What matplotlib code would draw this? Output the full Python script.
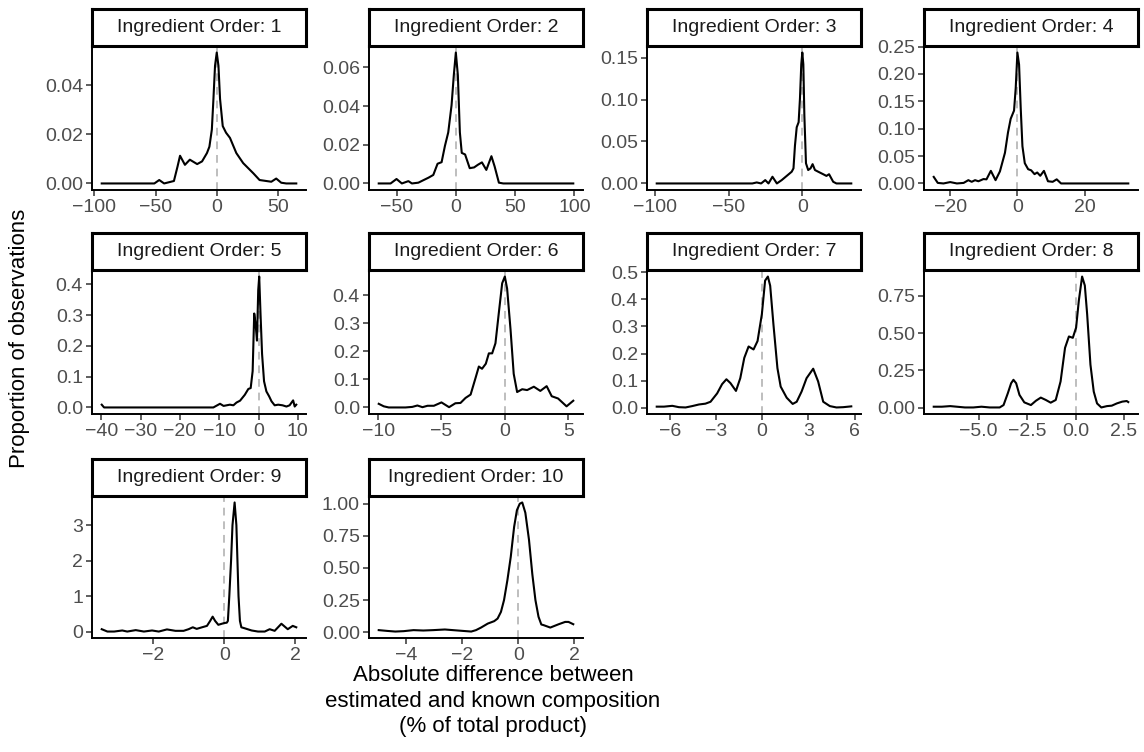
import matplotlib
matplotlib.use("Agg")
import matplotlib.pyplot as plt

plt.rcParams['font.family'] = ['Liberation Sans', 'DejaVu Sans']

# density curves, one pair per ingredient order
o1_x = [-94, -51, -47, -43, -35, -32, -30, -26, -22, -16, -12, -8, -6, -4, -2.7, -1.4, 0, 1.4, 2.7, 4.9, 7.6, 10.8, 16, 21.6, 30, 35, 40.5, 44.6, 48.6, 52.7, 56.8, 65]
o1_y = [0, 0, 0.0014, 0, 0.001, 0.007, 0.0113, 0.0076, 0.0097, 0.0079, 0.009, 0.0124, 0.015, 0.022, 0.0345, 0.048, 0.0534, 0.048, 0.0345, 0.0234, 0.0207, 0.0186, 0.0124, 0.0083, 0.0041, 0.0014, 0.001, 0.0007, 0.002, 0.0003, 0, 0]

o2_x = [-65, -55, -50, -45.5, -40, -37, -31.6, -27, -23, -19, -15.4, -12, -9.2, -6.4, -3.6, -1.7, 0, 1.7, 3.4, 5, 7.8, 11.7, 15.4, 18.7, 22, 25.7, 30, 32.7, 36.3, 40, 99]
o2_y = [0, 0, 0.0023, 0, 0.0012, 0, 0.0004, 0.0018, 0.003, 0.0044, 0.0102, 0.011, 0.0194, 0.0264, 0.0405, 0.056, 0.0677, 0.056, 0.0264, 0.0158, 0.015, 0.0079, 0.0083, 0.0097, 0.0109, 0.007, 0.0141, 0.0088, 0.0004, 0, 0]

o3_x = [-99, -34, -31, -28, -25.2, -23, -20.3, -17.3, -14, -10.6, -7.2, -6, -5, -3.8, -2.5, -1.6, -0.7, 0, 0.7, 1.4, 2.5, 4, 5.6, 7, 8.6, 10.8, 14.2, 16.4, 18.2, 21, 23.2, 33.3]
o3_y = [0, 0, 0.0012, 0, 0.004, 0, 0.008, 0, 0.004, 0.009, 0.014, 0.018, 0.045, 0.067, 0.073, 0.101, 0.142, 0.156, 0.142, 0.081, 0.024, 0.016, 0.018, 0.023, 0.016, 0.014, 0.011, 0.009, 0.011, 0.002, 0, 0]

o4_x = [-24.9, -23.7, -22, -20, -18, -16, -14.6, -13.6, -12.6, -11.6, -10.1, -9.2, -7.9, -6.5, -5.2, -3.7, -2.8, -2, -1, -0.5, 0, 0.5, 1, 1.5, 2.2, 3.2, 4.1, 5.1, 5.9, 6.8, 7.9, 9.1, 10.5, 11.7, 13, 19.4, 33]
o4_y = [0.012, 0.001, 0, 0.0025, 0, 0.001, 0.006, 0.003, 0.006, 0.004, 0.008, 0.0075, 0.023, 0.006, 0.022, 0.056, 0.093, 0.118, 0.133, 0.174, 0.239, 0.217, 0.136, 0.068, 0.037, 0.026, 0.024, 0.017, 0.02, 0.014, 0.023, 0.004, 0.003, 0.0075, 0, 0, 0]

o5_x = [-39.9, -39.3, -12.3, -11.5, -9.8, -8.9, -7.3, -6.4, -5.6, -4.7, -3.5, -2.6, -2.0, -1.5, -1.1, -0.76, -0.4, -0.08, 0.17, 0.5, 0.9, 1.4, 2.0, 2.7, 3.3, 4.1, 5.0, 6.1, 7.1, 7.9, 8.8, 9.2, 9.6]
o5_y = [0.009, 0, 0, 0, 0.012, 0.005, 0.009, 0.007, 0.016, 0.022, 0.041, 0.06, 0.063, 0.118, 0.305, 0.272, 0.217, 0.381, 0.425, 0.305, 0.173, 0.085, 0.052, 0.036, 0.02, 0.007, 0.009, 0.007, 0.003, 0.007, 0.023, 0.003, 0.009]

o6_x = [-9.95, -9.55, -9.16, -8.5, -7.84, -7.3, -6.9, -6.5, -6.1, -5.6, -5.0, -4.4, -3.9, -3.5, -3.1, -2.7, -2.3, -2.05, -1.8, -1.5, -1.26, -1.0, -0.74, -0.47, -0.21, 0, 0.18, 0.45, 0.7, 0.97, 1.37, 1.76, 2.29, 2.8, 3.3, 3.7, 4.2, 4.87, 5.4]
o6_y = [0.013, 0.004, 0, 0, 0, 0.002, 0.007, 0.001, 0.006, 0.006, 0.018, 0.001, 0.015, 0.016, 0.034, 0.046, 0.107, 0.146, 0.138, 0.156, 0.193, 0.193, 0.229, 0.339, 0.443, 0.467, 0.424, 0.278, 0.12, 0.055, 0.065, 0.062, 0.074, 0.059, 0.076, 0.04, 0.032, 0.004, 0.024]

o7_x = [-6.84, -6.37, -5.83, -5.4, -4.97, -4.54, -4.1, -3.68, -3.35, -2.92, -2.6, -2.32, -2.06, -1.7, -1.42, -1.16, -0.88, -0.56, -0.3, -0.02, 0.19, 0.37, 0.52, 0.73, 0.99, 1.2, 1.59, 1.98, 2.24, 2.56, 2.88, 3.31, 3.63, 3.96, 4.39, 4.82, 5.25, 5.78]
o7_y = [0.004, 0.004, 0.007, 0.002, 0.001, 0.006, 0.012, 0.015, 0.022, 0.053, 0.087, 0.105, 0.091, 0.062, 0.109, 0.184, 0.226, 0.215, 0.246, 0.345, 0.469, 0.484, 0.45, 0.308, 0.146, 0.078, 0.037, 0.014, 0.022, 0.06, 0.109, 0.144, 0.097, 0.022, 0.006, 0.001, 0.002, 0.005]

o8_x = [-7.31, -6.89, -6.46, -6.12, -5.7, -5.27, -4.85, -4.42, -3.91, -3.71, -3.49, -3.32, -3.2, -3.06, -2.89, -2.64, -2.3, -2.04, -1.79, -1.53, -1.28, -1.02, -0.77, -0.54, -0.34, -0.14, 0.03, 0.17, 0.34, 0.48, 0.6, 0.77, 0.94, 1.11, 1.33, 1.62, 1.87, 2.13, 2.41, 2.64, 2.72]
o8_y = [0.007, 0.007, 0.011, 0.007, 0.002, 0.002, 0.007, 0.002, 0.002, 0.018, 0.097, 0.164, 0.187, 0.164, 0.086, 0.036, 0.018, 0.047, 0.068, 0.052, 0.034, 0.052, 0.176, 0.401, 0.477, 0.468, 0.536, 0.716, 0.878, 0.818, 0.626, 0.288, 0.108, 0.029, 0.002, 0.011, 0.014, 0.029, 0.041, 0.045, 0.038]

o9_x = [-3.46, -3.3, -3.11, -2.88, -2.74, -2.5, -2.27, -2.04, -1.85, -1.62, -1.38, -1.15, -1.01, -0.89, -0.78, -0.63, -0.49, -0.4, -0.33, -0.26, -0.17, -0.07, 0, 0.07, 0.1, 0.14, 0.19, 0.23, 0.29, 0.34, 0.37, 0.4, 0.44, 0.48, 0.58, 0.77, 0.95, 1.14, 1.28, 1.42, 1.61, 1.79, 1.93, 2.03]
o9_y = [0.066, 0, 0, 0.03, 0, 0.04, 0, 0.03, 0, 0.06, 0.02, 0.02, 0.066, 0.12, 0.075, 0.12, 0.16, 0.3, 0.42, 0.3, 0.19, 0.22, 0.24, 0.25, 0.3, 1.0, 2.0, 3.0, 3.64, 3.0, 2.0, 1.0, 0.3, 0.12, 0.09, 0.03, 0, 0, 0.066, 0.02, 0.22, 0.066, 0.16, 0.12]

o10_x = [-4.98, -4.68, -4.39, -4.09, -3.74, -3.39, -3.04, -2.62, -2.33, -1.98, -1.68, -1.51, -1.33, -1.09, -0.86, -0.74, -0.62, -0.51, -0.39, -0.27, -0.15, -0.05, 0.05, 0.14, 0.25, 0.38, 0.5, 0.61, 0.72, 0.82, 0.9, 1.14, 1.44, 1.67, 1.79, 1.96]
o10_y = [0.016, 0.01, 0.005, 0.008, 0.016, 0.013, 0.016, 0.021, 0.016, 0.01, 0.005, 0.016, 0.036, 0.067, 0.086, 0.106, 0.158, 0.25, 0.405, 0.587, 0.82, 0.95, 1.0, 1.01, 0.93, 0.72, 0.45, 0.25, 0.12, 0.06, 0.055, 0.036, 0.062, 0.08, 0.08, 0.062]

curves = [(o1_x, o1_y), (o2_x, o2_y), (o3_x, o3_y), (o4_x, o4_y), (o5_x, o5_y),
          (o6_x, o6_y), (o7_x, o7_y), (o8_x, o8_y), (o9_x, o9_y), (o10_x, o10_y)]

# tick positions and decimals per facet
x_ticks = [[-100, -50, 0, 50], [-50, 0, 50, 100], [-100, -50, 0], [-20, 0, 20],
           [-40, -30, -20, -10, 0, 10], [-10, -5, 0, 5], [-6, -3, 0, 3, 6],
           [-5.0, -2.5, 0.0, 2.5], [-2, 0, 2], [-4, -2, 0, 2]]
x_dec = [0, 0, 0, 0, 0, 0, 0, 1, 0, 0]
y_ticks = [[0, 0.02, 0.04], [0, 0.02, 0.04, 0.06], [0, 0.05, 0.10, 0.15],
           [0, 0.05, 0.10, 0.15, 0.20, 0.25], [0, 0.1, 0.2, 0.3, 0.4],
           [0, 0.1, 0.2, 0.3, 0.4], [0, 0.1, 0.2, 0.3, 0.4, 0.5],
           [0, 0.25, 0.50, 0.75], [0, 1, 2, 3], [0, 0.25, 0.50, 0.75, 1.00]]
y_dec = [2, 2, 2, 2, 1, 1, 1, 2, 0, 2]


def fmt(v, d):
    return f"{v:.{d}f}".replace("-", "\u2212")


W, H = 1144, 752
fig = plt.figure(figsize=(W / 100, H / 100), dpi=100)

col_left = [92, 369, 647, 924]
row_top = [46, 270, 496]
row_h = [144, 144, 142]
panel_w = 214
strip_h = 37


def px_axes(left, top, w, h):
    return fig.add_axes([left / W, 1 - (top + h) / H, w / W, h / H])


for i, (xs, ys) in enumerate(curves):
    r, c = divmod(i, 4)
    left, top, h = col_left[c], row_top[r], row_h[r]

    ax = px_axes(left, top, panel_w, h)
    ax.axvline(0, color='#BEBEBE', lw=1.4, ls=(0, (4, 3)), zorder=1)
    ax.plot(xs, ys, color='black', lw=1.5, zorder=2)
    ax.set_xticks(x_ticks[i], [fmt(v, x_dec[i]) for v in x_ticks[i]])
    ax.set_yticks(y_ticks[i], [fmt(v, y_dec[i]) for v in y_ticks[i]])
    ax.margins(x=0.05, y=0.05)
    for s in ['top', 'right']:
        ax.spines[s].set_visible(False)
    for s in ['left', 'bottom']:
        ax.spines[s].set_linewidth(1.4)
        ax.spines[s].set_color('black')
    ax.tick_params(direction='out', length=4.5, width=1.1, color='#333333',
                   labelsize=14, labelcolor='#4D4D4D', pad=2)

    st = px_axes(left, top - strip_h, panel_w, strip_h)
    st.set_xticks([])
    st.set_yticks([])
    for s in st.spines.values():
        s.set_linewidth(2.2)
        s.set_color('black')
    st.text(0.5, 0.5, f"Ingredient Order: {i + 1}", ha='center', va='center',
            fontsize=14, color='#1A1A1A', transform=st.transAxes)

fig.text(20 / W, 1 - 338 / H, "Proportion of observations", rotation=90,
         ha='center', va='center', fontsize=16)
fig.text(493 / W, 1 - 701 / H,
         "Absolute difference between\nestimated and known composition\n(% of total product)",
         ha='center', va='center', fontsize=16, linespacing=1.3)

fig.savefig("out.png", dpi=100)
